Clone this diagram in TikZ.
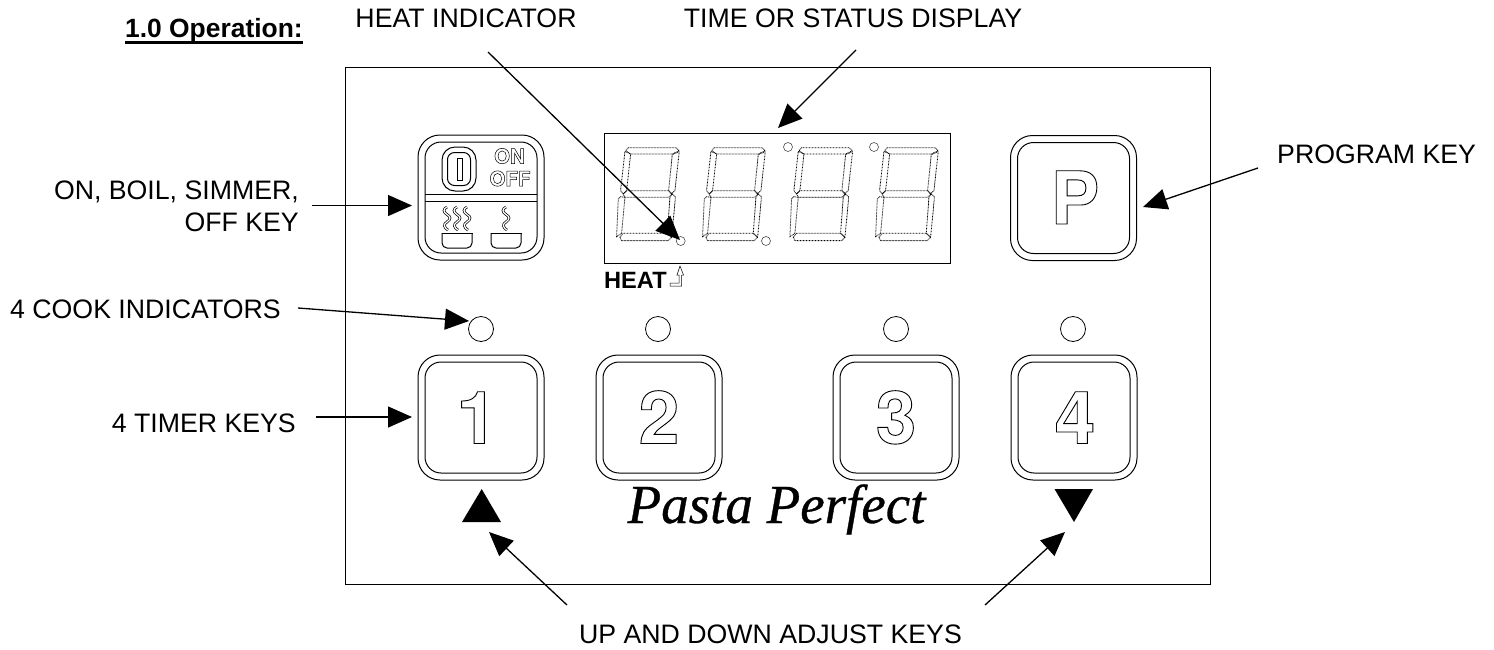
\documentclass[tikz,border=0pt]{standalone}
\usepackage{fontspec}
\usetikzlibrary{arrows.meta}
\newfontfamily\lab{Liberation Sans}
\newfontfamily\keyf{TeX Gyre Heros}
\newfontfamily\brandf[ItalicFeatures={FakeBold=0.6}]{Liberation Serif}
\newcommand{\outl}[2][0.9]{\special{pdf:code 1 Tr #1 w}#2\special{pdf:code 0 Tr}}
\tikzset{
 lbl/.style={font=\lab\fontsize{26.7}{30}\selectfont,inner sep=0pt,text=black},
 ptr/.style={line width=1.3pt,-{Triangle[length=24pt,width=21pt]},shorten >=0pt},
 keyo/.style={draw,line width=1pt,rounded corners=22pt,fill=white,minimum width=126pt,minimum height=125pt,inner sep=0pt},
 keyi/.style={draw,line width=1pt,rounded corners=16pt,minimum width=112pt,minimum height=111pt,inner sep=0pt},
 seg/.style={line width=0.8pt,dash pattern=on 0.8pt off 0.7pt,black},
 led/.style={circle,draw,line width=0.8pt,minimum size=25pt,inner sep=0pt},
 dp/.style={circle,draw,line width=0.6pt,black!70,minimum size=9pt,inner sep=0pt},
 digit/.style={font=\keyf\bfseries\fontsize{73}{73}\selectfont,inner sep=0pt,text=black},
 squig/.style={line width=0.7pt,double=white,double distance=1.2pt},
}
\newcommand{\sevenseg}[1]{%
 \begin{scope}[shift={(#1,0)},x=0.3333pt,y=-0.3333pt,shift={(1770,360)}]
  \draw[seg] (115,83)--(258,83)--(268,92)--(247,102)--(122,102)--(107,92)--cycle;
  \draw[seg] (268,95)--(255,212)--(244,222)--(236,212)--(247,104)--cycle;
  \draw[seg] (105,94)--(122,102)--(110,212)--(100,222)--(92,212)--cycle;
  \draw[seg] (100,222)--(110,212)--(236,212)--(247,222)--(236,232)--(105,232)--cycle;
  \draw[seg] (92,230)--(105,232)--(95,340)--(80,350)--(85,237)--cycle;
  \draw[seg] (256,230)--(247,222)--(240,232)--(232,340)--(245,352)--(256,238)--cycle;
  \draw[seg] (90,352)--(100,340)--(232,340)--(245,352)--(235,362)--(95,362)--cycle;
 \end{scope}}
\newcommand{\squigat}[2]{%
 \draw[squig] (#1,#2) .. controls (#1-4,#2+2) and (#1-4,#2+5) .. (#1,#2+7.5) .. controls (#1+4,#2+10) and (#1+4,#2+12) .. (#1,#2+15) .. controls (#1-4,#2+17) and (#1-3,#2+21) .. (#1+1,#2+23);}
\begin{document}
\begin{tikzpicture}[x=1pt,y=-1pt]
\useasboundingbox (0,0) rectangle (1494,649);
\node[draw,line width=0.8pt,minimum width=865pt,minimum height=517pt,inner sep=0pt] (panel) at (777.5,325.5) {};
% display
\node[draw,line width=1pt,minimum width=346pt,minimum height=130pt,inner sep=0pt] (display) at (777,198) {};
\sevenseg{0}\sevenseg{86}\sevenseg{173.3}\sevenseg{259}
\node[dp] (dp1) at (680.7,241) {};
\node[dp] (dp2) at (766,241) {};
\node[dp] (dp3) at (788,147) {};
\node[dp] (dp4) at (874,147) {};
\node[font=\lab\bfseries\fontsize{23.6}{24}\selectfont,inner sep=0pt,anchor=base west] (heat) at (604,288.5) {HEAT};
\draw[line width=0.5pt,fill=white] (670,283)--(679,283)--(679,275)--(677,275)--(680,266)--(683.5,275)--(681.5,275)--(681.5,286)--(670,286)--cycle;
% power key
\node[keyo] (pwr) at (481,197.5) {};
\node[keyi] (pwri) at (481,197.5) {};
\draw[line width=1pt] (425,194) -- (537,194);
\draw[line width=1pt] (425,201) -- (537,201);
\node[draw,line width=1pt,rounded corners=13pt,minimum width=34pt,minimum height=44pt,inner sep=0pt] (sw) at (459,169) {};
\node[draw,line width=1pt,rounded corners=7pt,minimum width=23pt,minimum height=33pt,inner sep=0pt] (swi) at (459,169) {};
\node[draw,line width=0.8pt,minimum width=5pt,minimum height=22pt,inner sep=0pt] (swb) at (459.5,169) {};
\node[font=\keyf\bfseries\fontsize{20.5}{20}\selectfont,inner sep=0pt,anchor=base] (on) at (509.5,163.5) {\outl[0.5]{ON}};
\node[font=\keyf\bfseries\fontsize{20.5}{20}\selectfont,inner sep=0pt,anchor=base] (off) at (510,186) {\outl[0.5]{OFF}};
\squigat{447}{207}\squigat{457}{207}\squigat{467}{207}\squigat{506}{207}
\draw[line width=1pt,rounded corners=5pt] (442,233)--(442,248)--(472,248)--(472,233);
\draw[line width=1pt] (441.5,233)--(472.5,233);
\draw[line width=1pt,rounded corners=5pt] (491,233)--(491,248)--(521,248)--(521,233);
\draw[line width=1pt] (490.5,233)--(521.5,233);
% program key
\node[keyo] (pk) at (1073.5,198) {};
\node[keyi] (pki) at (1073.5,198) {};
\node[digit,anchor=base] (pl) at (1075,224) {\outl{P}};
% LEDs
\node[led] (l1) at (481,329) {};
\node[led] (l2) at (658,329) {};
\node[led] (l3) at (896,329) {};
\node[led] (l4) at (1073,329) {};
% number keys
\foreach \n/\x/\dx in {1/481/-4,2/659/0,3/896/0,4/1074/1}{
 \node[keyo] (k\n) at (\x,417.5) {};
 \node[keyi] (ki\n) at (\x,417.5) {};
 \node[digit,anchor=base] (kd\n) at (\x+\dx,443.5) {\outl{\n}};
}
\fill (481.7,489)--(501,522)--(462,522)--cycle;
\fill (1054.5,489)--(1093,489)--(1074,522)--cycle;
\node[font=\brandf\itshape\fontsize{55}{55}\selectfont,inner sep=0pt,anchor=base] (brand) at (776.5,523) {Pasta Perfect};
% labels
\node[font=\lab\bfseries\fontsize{26.4}{30}\selectfont,inner sep=0pt,anchor=base west] (op) at (125,37.5) {1.0 Operation:};
\draw[line width=2.6pt] ([yshift=-5pt]op.base west) -- ([yshift=-5pt]op.base east);
\node[lbl,anchor=base] (t1) at (466,27.5) {HEAT INDICATOR};
\node[lbl,anchor=base] (t2) at (853,27.5) {TIME OR STATUS DISPLAY};
\node[lbl,anchor=base east] (t3) at (299,199.5) {ON, BOIL, SIMMER,};
\node[lbl,anchor=base east] (t3b) at (299,231.5) {OFF KEY};
\node[lbl,anchor=base west] (t4) at (10,318) {4 COOK INDICATORS};
\node[lbl,anchor=base east] (t5) at (296,432.5) {4 TIMER KEYS};
\node[lbl,anchor=base west] (t6) at (1277,163) {PROGRAM KEY};
\node[lbl,anchor=base] (t7) at (770.5,643) {UP AND DOWN ADJUST KEYS};
% connectors
\coordinate (a1s) at (488,52);  \coordinate (a1e) at (680,240);
\coordinate (a2s) at (856,50);  \coordinate (a2e) at (778,128);
\coordinate (a3s) at (312,205.5); \coordinate (a3e) at (412,205.5);
\coordinate (a4s) at (1258,168); \coordinate (a4e) at (1143,207);
\coordinate (a5s) at (298,308); \coordinate (a5e) at (469,321);
\coordinate (a6s) at (316,417); \coordinate (a6e) at (412,417);
\coordinate (a7s) at (567,605); \coordinate (a7e) at (489,532);
\coordinate (a8s) at (985,605); \coordinate (a8e) at (1065,532);
\foreach \i in {1,...,8}{\draw[ptr] (a\i s) -- (a\i e);}
\end{tikzpicture}
\end{document}
